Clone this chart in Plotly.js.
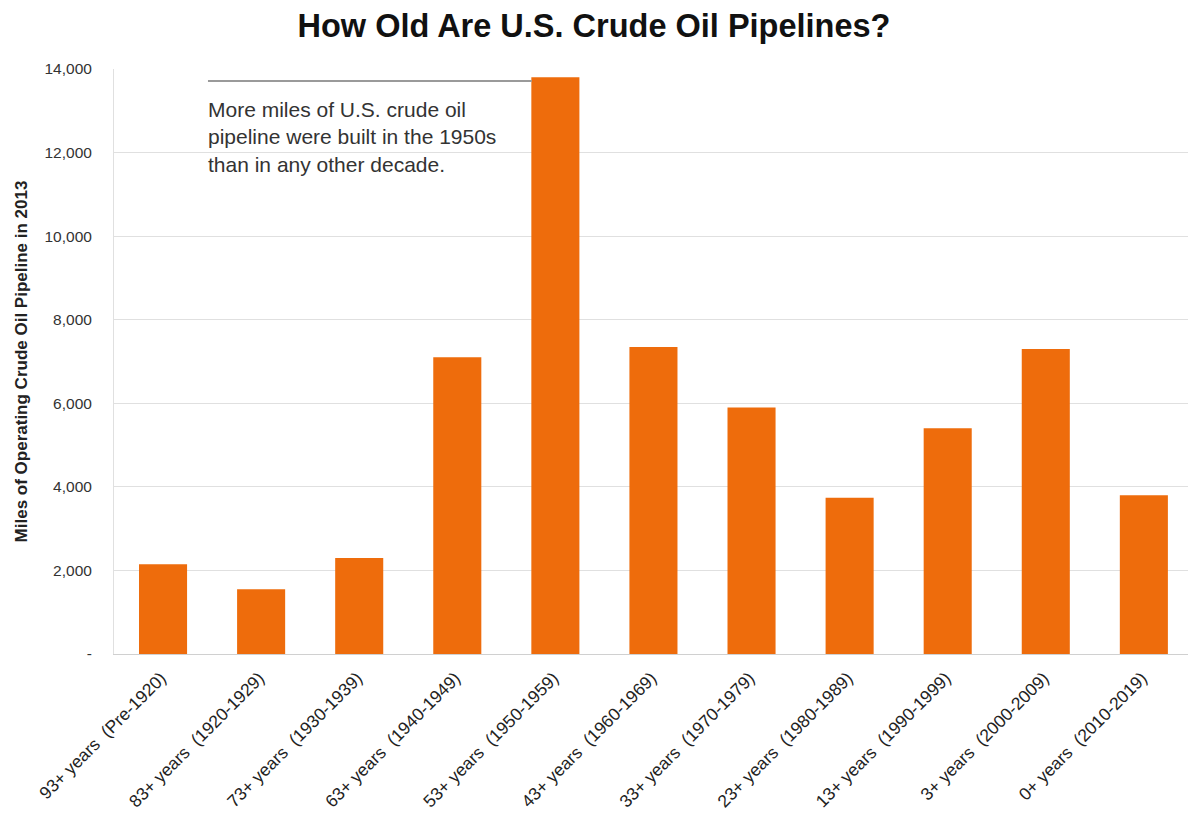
<!DOCTYPE html>
<html>
<head>
<meta charset="utf-8">
<script src="https://cdn.plot.ly/plotly-3.0.1.min.js"></script>
<style>html,body{margin:0;padding:0;background:#fff}#chart{width:1188px;height:815px}</style>
</head>
<body>
<div id="chart"></div>
<script>
const categories = [
  "93+ years  (Pre-1920)",
  "83+ years  (1920-1929)",
  "73+ years  (1930-1939)",
  "63+ years  (1940-1949)",
  "53+ years  (1950-1959)",
  "43+ years  (1960-1969)",
  "33+ years  (1970-1979)",
  "23+ years  (1980-1989)",
  "13+ years  (1990-1999)",
  "3+ years  (2000-2009)",
  "0+ years  (2010-2019)"
];
const miles = [2150, 1550, 2300, 7100, 13800, 7350, 5900, 3740, 5400, 7300, 3800];
const yTickVals = [0, 2000, 4000, 6000, 8000, 10000, 12000, 14000];
const yTickText = ["-", "2,000", "4,000", "6,000", "8,000", "10,000", "12,000", "14,000"];
const titleText = "How Old Are U.S. Crude Oil Pipelines?";
const yTitle = "Miles of Operating Crude Oil Pipeline in 2013";
const noteText = "More miles of U.S. crude oil<br>pipeline were built in the 1950s<br>than in any other decade.";

const trace = {
  type: "bar",
  x: categories,
  y: miles,
  marker: { color: "#EE6C0C" },
  hoverinfo: "x+y"
};

const layout = {
  width: 1188,
  height: 815,
  margin: { l: 114, r: 0, t: 69, b: 161 },
  paper_bgcolor: "#fff",
  plot_bgcolor: "#fff",
  bargap: 0.51,
  font: { family: "Liberation Sans, Arial, sans-serif", color: "#222" },
  title: {
    text: "<b>" + titleText + "</b>",
    font: { size: 32.5, color: "#111", family: "Liberation Sans, Arial, sans-serif" },
    x: 0.5, xref: "container", xanchor: "center",
    y: 0.968, yref: "container", yanchor: "middle"
  },
  xaxis: {
    type: "category",
    range: [-0.5, 10.45],
    tickangle: -45,
    tickfont: { size: 17.5, color: "#222" },
    ticklabelstandoff: 6,
    ticklabelshift: -2,
    showline: true, linecolor: "#d0d0d0", linewidth: 1,
    ticks: "", showgrid: false, zeroline: false
  },
  yaxis: {
    range: [0, 14000],
    tickvals: yTickVals,
    ticktext: yTickText,
    tickfont: { size: 15.5, color: "#333" },
    ticks: "", ticklen: 0,
    ticklabelstandoff: 18,
    showgrid: true, gridcolor: "#e0e0e0", gridwidth: 1,
    showline: true, linecolor: "#e0e0e0",
    zeroline: false,
    title: {
      text: "<b>" + yTitle + "</b>",
      font: { size: 17, color: "#222" },
      standoff: 12
    }
  },
  shapes: [{
    type: "line", xref: "paper", yref: "paper",
    x0: 0.0875, x1: 0.389, y0: 0.9795, y1: 0.9795,
    line: { color: "#9a9a9a", width: 2 }
  }],
  annotations: [{
    text: noteText,
    xref: "paper", yref: "paper",
    x: 0.0855, y: 0.953,
    xanchor: "left", yanchor: "top",
    align: "left", showarrow: false,
    font: { size: 21, color: "#333" }
  }],
  showlegend: false
};

Plotly.newPlot("chart", [trace], layout, { displayModeBar: false, responsive: false });
</script>
</body>
</html>
